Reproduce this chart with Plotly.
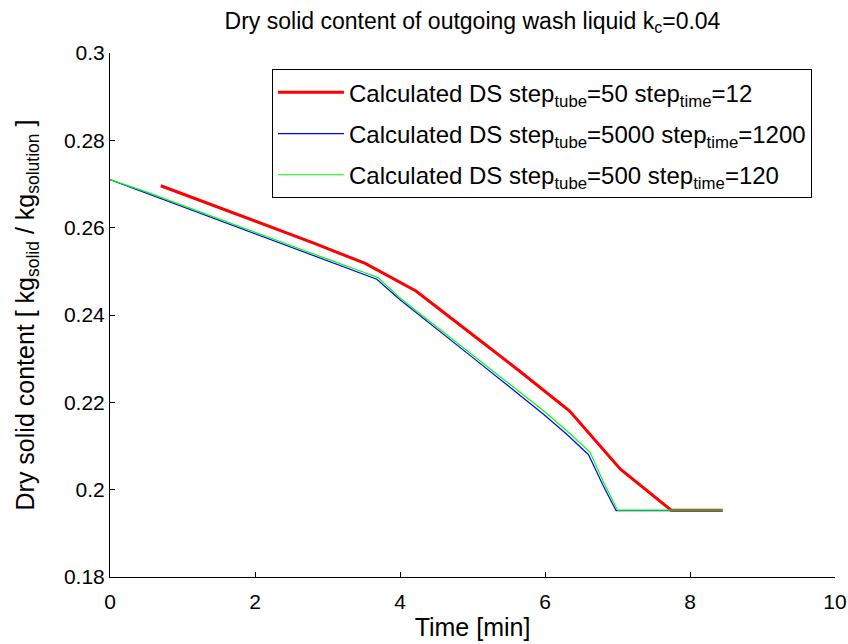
import plotly.graph_objects as go

# Red: step_tube=50, step_time=12
red_x = [0.70, 1.41, 2.11, 2.82, 3.52, 4.22, 4.93, 5.63, 6.34, 7.04, 7.74, 8.45]
red_y = [0.2696, 0.2652, 0.2608, 0.2564, 0.2518, 0.2455, 0.2364, 0.2274, 0.2180, 0.2047, 0.1953, 0.1953]

# Blue: step_tube=5000, step_time=1200
blue_x = [0.0, 0.5, 1.0, 1.5, 2.0, 2.5, 3.0, 3.5, 3.68, 4.0, 4.5, 5.0, 5.5, 6.0, 6.3, 6.6, 6.8, 6.98, 7.5, 8.0, 8.45]
blue_y = [0.2710, 0.2679, 0.2648, 0.2617, 0.2587, 0.2556, 0.2525, 0.2494, 0.2482, 0.2435, 0.2368, 0.2303, 0.2237, 0.2170, 0.2127, 0.2080, 0.2010, 0.1952, 0.1952, 0.1952, 0.1952]

# Green: step_tube=500, step_time=120
green_x = [0.0, 0.5, 1.0, 1.5, 2.0, 2.5, 3.0, 3.5, 3.70, 4.0, 4.5, 5.0, 5.5, 6.0, 6.3, 6.62, 6.8, 7.0, 7.5, 8.0, 8.45]
green_y = [0.2710, 0.2682, 0.2651, 0.2620, 0.2590, 0.2559, 0.2528, 0.2498, 0.2485, 0.2439, 0.2374, 0.2310, 0.2245, 0.2178, 0.2135, 0.2086, 0.2020, 0.1953, 0.1953, 0.1953, 0.1953]

x_ticks = [0, 2, 4, 6, 8, 10]
y_ticks = [0.18, 0.2, 0.22, 0.24, 0.26, 0.28, 0.3]
y_tick_text = ["0.18", "0.2", "0.22", "0.24", "0.26", "0.28", "0.3"]

names = [
    "Calculated DS step<sub>tube</sub>=50 step<sub>time</sub>=12",
    "Calculated DS step<sub>tube</sub>=5000 step<sub>time</sub>=1200",
    "Calculated DS step<sub>tube</sub>=500 step<sub>time</sub>=120",
]

FONT = "Liberation Sans, Arial, sans-serif"

fig = go.Figure()
fig.add_trace(go.Scatter(x=red_x, y=red_y, mode="lines", name=names[0], legendgroup="a",
                         line=dict(color="#ff0000", width=3)))
fig.add_trace(go.Scatter(x=blue_x, y=blue_y, mode="lines", name=names[1], legendgroup="b",
                         line=dict(color="#0000ff", width=1.2)))
fig.add_trace(go.Scatter(x=green_x, y=green_y, mode="lines", name=names[2], legendgroup="c",
                         line=dict(color="#00ff00", width=1.2)))

fig.update_layout(
    width=848, height=644,
    margin=dict(l=110, r=13, t=53, b=67),
    paper_bgcolor="white", plot_bgcolor="white",
    font=dict(family=FONT, size=21, color="black"),
    title=dict(text="Dry solid content of outgoing wash liquid k<sub>c</sub>=0.04",
               xref="paper", x=0.5, xanchor="center",
               yref="container", y=0.968, yanchor="middle",
               font=dict(family=FONT, size=23, color="black")),
    showlegend=True,
    legend=dict(x=0.2234, y=0.969, xanchor="left", yanchor="top",
                bgcolor="white", bordercolor="black", borderwidth=1,
                itemwidth=66, tracegroupgap=7,
                font=dict(family=FONT, size=24, color="black")),
    xaxis=dict(range=[0, 10], tickvals=x_ticks, ticks="inside", ticklen=5,
               tickcolor="black", showline=True, linecolor="black", linewidth=1,
               showgrid=False, zeroline=False, mirror=False, automargin=False,
               tickfont=dict(size=21), ticklabelstandoff=6,
               title=dict(text="Time [min]", font=dict(size=25), standoff=6)),
    yaxis=dict(range=[0.18, 0.3], tickvals=y_ticks, ticktext=y_tick_text,
               ticks="inside", ticklen=5,
               tickcolor="black", showline=True, linecolor="black", linewidth=1,
               showgrid=False, zeroline=False, mirror=False, automargin=False,
               tickfont=dict(size=21),
               title=dict(text="Dry solid content [ kg<sub>solid</sub> / kg<sub>solution</sub> ]",
                          font=dict(size=25), standoff=22)),
)

fig.write_html("out.html")
